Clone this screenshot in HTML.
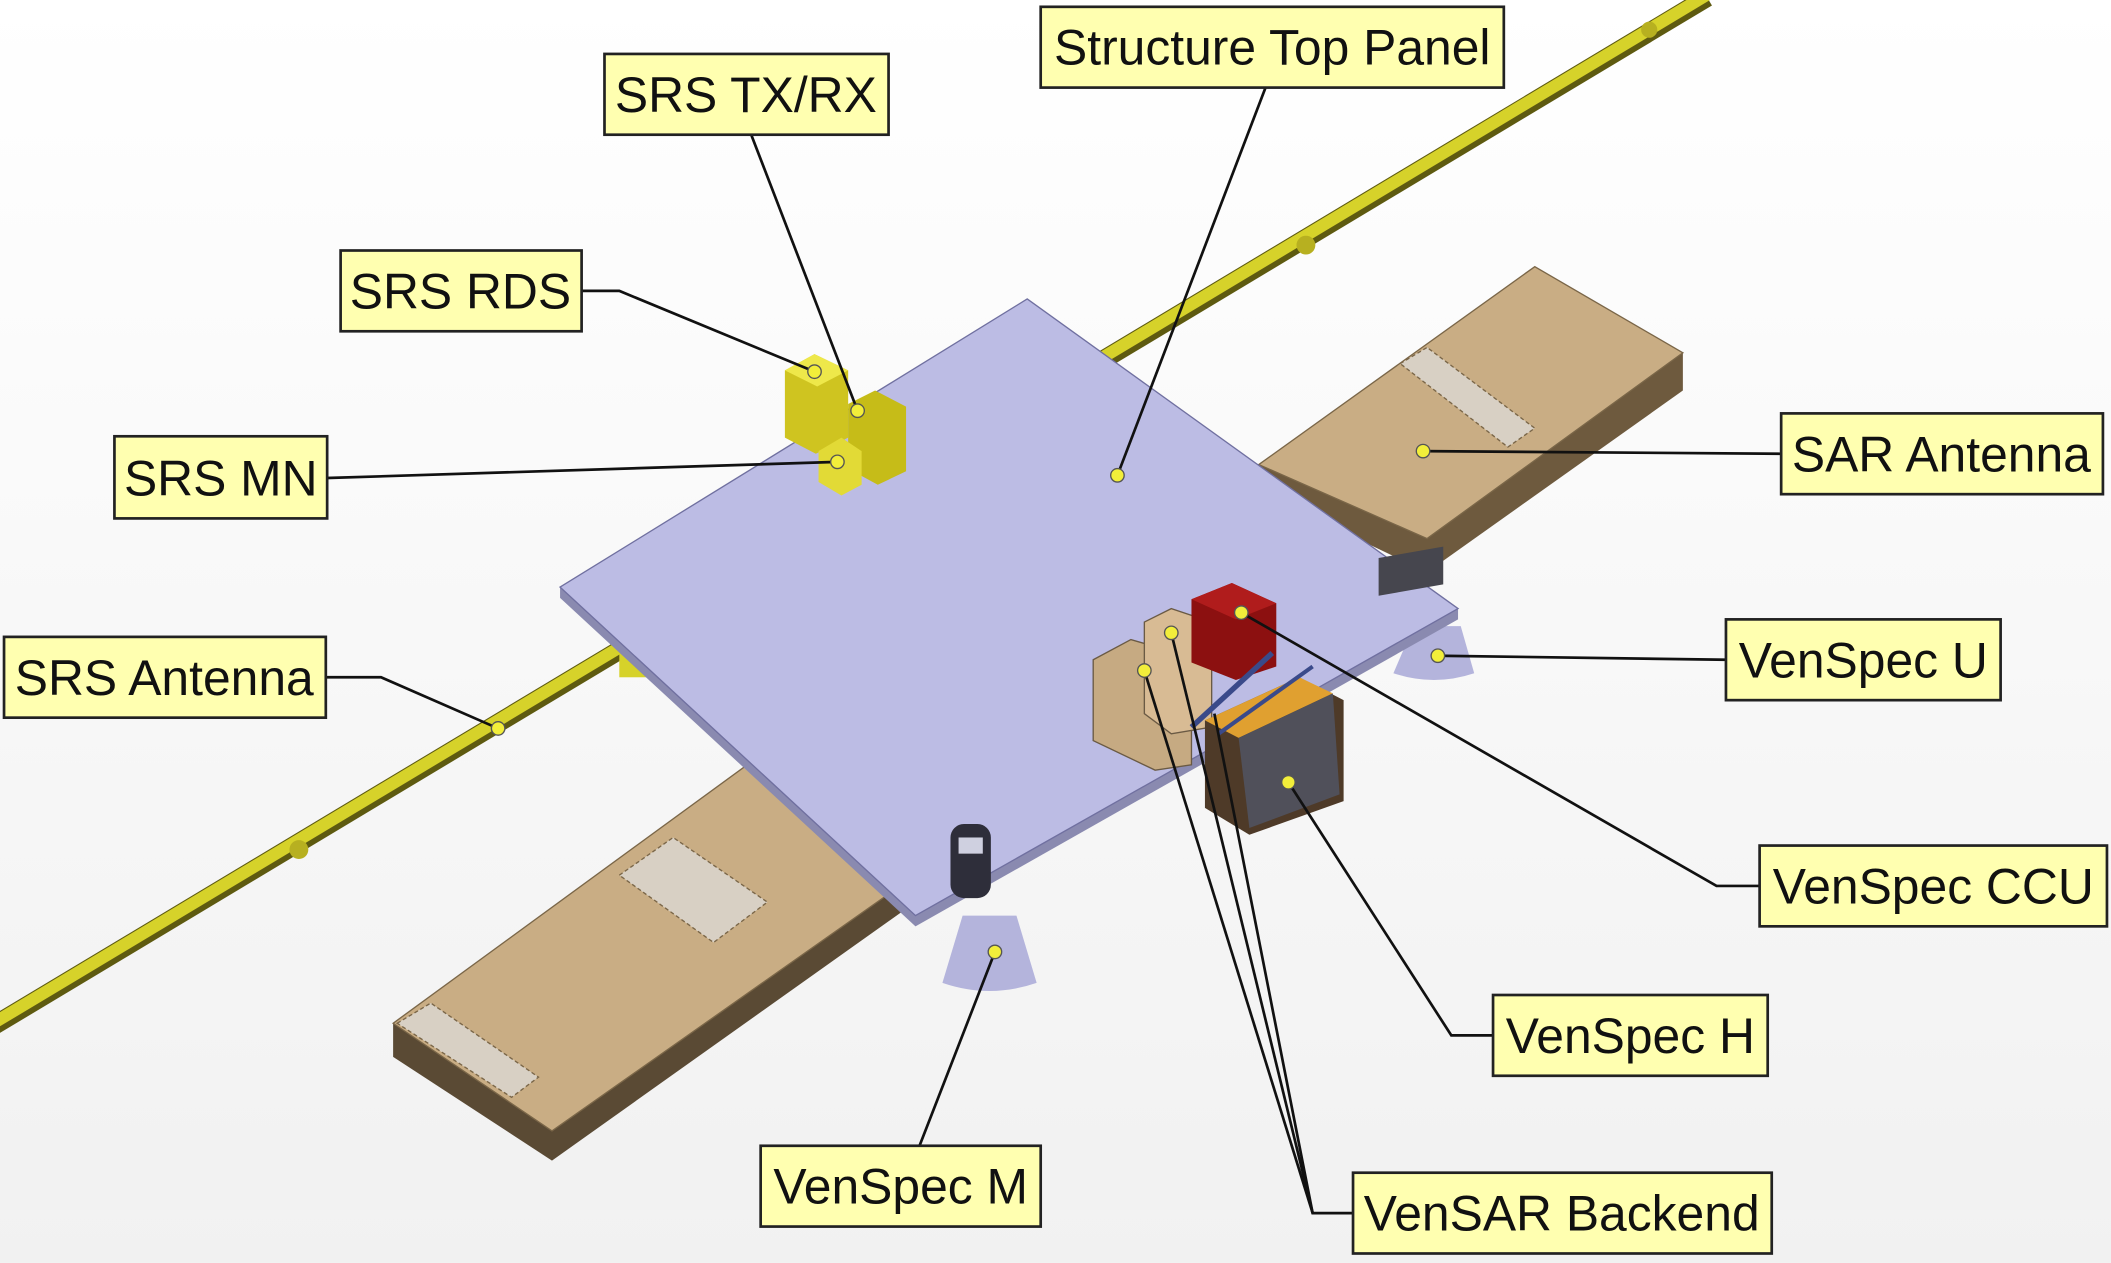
<!DOCTYPE html>
<html><head><meta charset="utf-8"><style>
html,body{margin:0;padding:0;background:#fff;}
svg{display:block;}
text{font-family:"Liberation Sans",sans-serif;font-size:37px;fill:#111;}
</style></head><body>
<svg width="2111" height="1263" viewBox="0 0 1568 938">
<defs>
<linearGradient id="bg" x1="0" y1="0" x2="0" y2="1"><stop offset="0" stop-color="#ffffff"/><stop offset="1" stop-color="#f1f1f1"/></linearGradient>
</defs>
<rect width="1568" height="938" fill="url(#bg)"/>
<g>
<line x1="-5" y1="762" x2="1268" y2="-2" stroke="#5e5a10" stroke-width="14"/>
<line x1="-5" y1="760" x2="1268" y2="-4" stroke="#d6d22a" stroke-width="9"/>
<circle cx="222" cy="631" r="7" fill="#b7b020"/><circle cx="970" cy="182" r="7" fill="#b7b020"/><circle cx="1225" cy="22" r="6" fill="#b7b020"/>
</g>
<g>
<polygon points="935,345 1140,198 1250,262 1250,290 1060,425 935,365" fill="#6e5a3e"/>
<polygon points="935,345 1140,198 1250,262 1060,400" fill="#c9ad84" stroke="#7a6648" stroke-width="1"/>
<polygon points="1040,270 1060,258 1140,318 1120,332" fill="#d8d0c4" stroke="#7a6648" stroke-dasharray="3,2"/>
</g>
<g>
<polygon points="292,760 555,568 680,650 680,670 410,862 292,785" fill="#5a4a34"/>
<polygon points="292,760 555,568 680,650 410,840" fill="#c9ad84" stroke="#7a6648" stroke-width="1"/>
<polygon points="460,650 500,622 570,670 530,700" fill="#d8d0c4" stroke="#7a6648" stroke-dasharray="3,2"/>
<polygon points="295,760 320,745 400,800 380,815" fill="#d8d0c4" stroke="#7a6648" stroke-dasharray="3,2"/>
</g>
<path d="M1035,500 L1050,465 L1085,465 L1095,500 Q1065,510 1035,500Z" fill="#b4b4dc"/>
<path d="M700,730 L715,680 L755,680 L770,730 Q735,742 700,730Z" fill="#b4b4dc"/>
<rect x="460" y="478" width="30" height="25" fill="#d6d22a"/>
<g>
<polygon points="416,436 763,222 1083,452 1083,460 680,688 416,444" fill="#8a8ab0"/>
<polygon points="416,436 763,222 1083,452 680,680" fill="#bcbce4" stroke="#7070a0" stroke-width="1"/>
</g>
<g>
<polygon points="583,275 605,263 630,275 630,325 606,337 583,325" fill="#cfc420"/>
<polygon points="583,275 605,263 630,275 607,287" fill="#eee84a"/>
<polygon points="630,300 650,290 673,302 673,350 652,360 630,348" fill="#c6bc18"/>
<polygon points="608,335 625,325 640,335 640,360 625,368 608,358" fill="#e2da36"/>
</g>
<g>
<polygon points="812,490 840,475 885,488 885,568 858,572 812,550" fill="#c6aa82" stroke="#6a5a44"/>
<polygon points="850,462 870,452 900,462 900,540 870,545 850,530" fill="#d8bb94" stroke="#6a5a44"/>
<polygon points="885,445 915,433 948,448 948,495 918,505 885,492" fill="#8c1010"/>
<polygon points="885,445 915,433 948,448 918,460" fill="#b01c1c"/>
<polygon points="895,535 965,503 998,520 998,595 928,620 895,600" fill="#4e3a28"/>
<polygon points="895,535 965,503 990,515 920,548" fill="#e0a030"/>
<polygon points="920,548 990,515 995,590 928,615" fill="#50505a"/>
<line x1="885" y1="540" x2="945" y2="485" stroke="#3a4a8a" stroke-width="4"/>
<line x1="905" y1="545" x2="975" y2="495" stroke="#3a4a8a" stroke-width="3"/>
<rect x="1024" y="413" width="48" height="28" fill="#46464e" transform="skewY(-10) translate(0,182)"/>
<rect x="706" y="612" width="30" height="55" rx="10" fill="#2e2e3a"/>
<rect x="712" y="622" width="18" height="12" fill="#cfd0e0"/>
</g>
<g stroke="#111" stroke-width="2" fill="none">
<polyline points="940,65 830,353"/>
<polyline points="558,100 637,305"/>
<polyline points="432,216 460,216 605,276"/>
<polyline points="243,355 622,343"/>
<polyline points="1323,337 1057,335"/>
<polyline points="242,503 283,503 370,541"/>
<polyline points="1282,490 1068,487"/>
<polyline points="1307,658 1275,658 922,455"/>
<polyline points="1109,769 1078,769 957,581"/>
<polyline points="975,901 850,498"/>
<polyline points="975,901 870,470"/>
<polyline points="1005,901 975,901 902,530"/>
<polyline points="683,851 739,707"/>
</g>
<g fill="#f2ee3a" stroke="#555" stroke-width="1">
<circle cx="830" cy="353" r="5"/><circle cx="637" cy="305" r="5"/><circle cx="605" cy="276" r="5"/><circle cx="622" cy="343" r="5"/>
<circle cx="1057" cy="335" r="5"/><circle cx="370" cy="541" r="5"/><circle cx="1068" cy="487" r="5"/><circle cx="922" cy="455" r="5"/>
<circle cx="957" cy="581" r="5"/><circle cx="850" cy="498" r="5"/><circle cx="870" cy="470" r="5"/><circle cx="739" cy="707" r="5"/>
</g>
<g><rect x="773" y="5" width="344" height="60" fill="#ffffb0" stroke="#222" stroke-width="2"/><text x="945" y="48" text-anchor="middle">Structure Top Panel</text></g>
<g><rect x="449" y="40" width="211" height="60" fill="#ffffb0" stroke="#222" stroke-width="2"/><text x="554" y="83" text-anchor="middle">SRS TX/RX</text></g>
<g><rect x="253" y="186" width="179" height="60" fill="#ffffb0" stroke="#222" stroke-width="2"/><text x="342" y="229" text-anchor="middle">SRS RDS</text></g>
<g><rect x="85" y="324" width="158" height="61" fill="#ffffb0" stroke="#222" stroke-width="2"/><text x="164" y="368" text-anchor="middle">SRS MN</text></g>
<g><rect x="1323" y="307" width="239" height="60" fill="#ffffb0" stroke="#222" stroke-width="2"/><text x="1442" y="350" text-anchor="middle">SAR Antenna</text></g>
<g><rect x="3" y="473" width="239" height="60" fill="#ffffb0" stroke="#222" stroke-width="2"/><text x="122" y="516" text-anchor="middle">SRS Antenna</text></g>
<g><rect x="1282" y="460" width="204" height="60" fill="#ffffb0" stroke="#222" stroke-width="2"/><text x="1384" y="503" text-anchor="middle">VenSpec U</text></g>
<g><rect x="1307" y="628" width="258" height="60" fill="#ffffb0" stroke="#222" stroke-width="2"/><text x="1436" y="671" text-anchor="middle">VenSpec CCU</text></g>
<g><rect x="1109" y="739" width="204" height="60" fill="#ffffb0" stroke="#222" stroke-width="2"/><text x="1211" y="782" text-anchor="middle">VenSpec H</text></g>
<g><rect x="1005" y="871" width="311" height="60" fill="#ffffb0" stroke="#222" stroke-width="2"/><text x="1160" y="914" text-anchor="middle">VenSAR Backend</text></g>
<g><rect x="565" y="851" width="208" height="60" fill="#ffffb0" stroke="#222" stroke-width="2"/><text x="669" y="894" text-anchor="middle">VenSpec M</text></g>
</svg>
</body></html>
